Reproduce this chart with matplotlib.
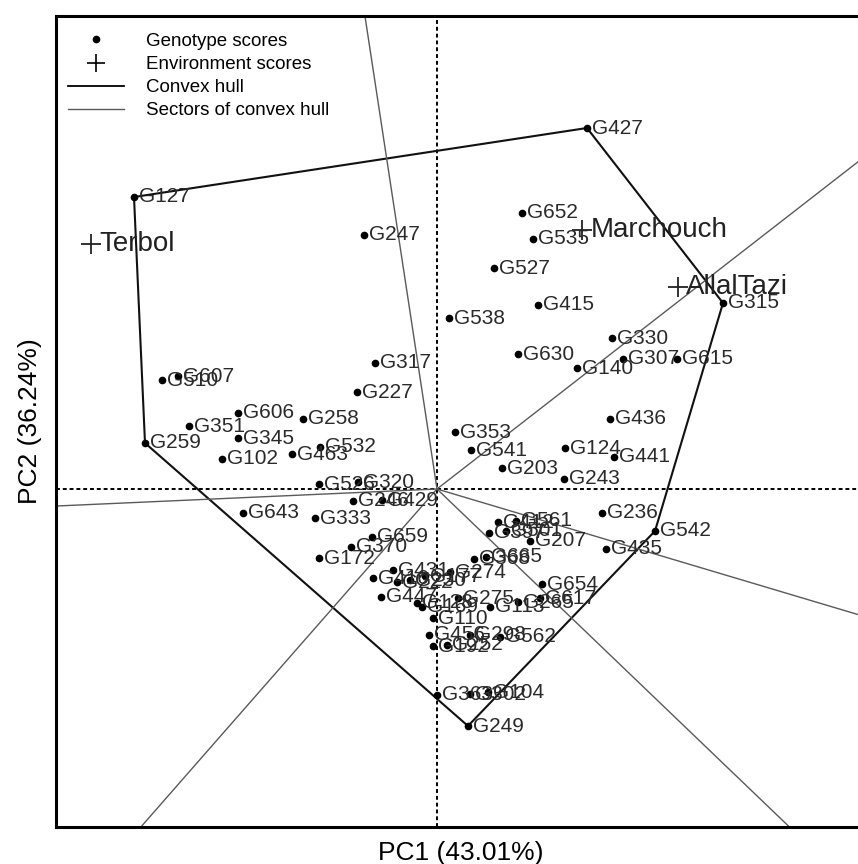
"""
GGE biplot (which-won-where view) with convex hull and sector lines.
"""

import numpy as np
import matplotlib
matplotlib.use('Agg')
import matplotlib.pyplot as plt
from matplotlib.lines import Line2D

plt.rcParams['font.family'] = ['Liberation Sans', 'DejaVu Sans']

# Genotype scores (PC1, PC2)
geno_names = [
    'G127', 'G427', 'G652', 'G535', 'G527', 'G247', 'G415', 'G538', 'G315', 'G330',
    'G630', 'G307', 'G615', 'G140', 'G436', 'G353', 'G541', 'G124', 'G441', 'G203',
    'G243', 'G236', 'G542', 'G435', 'G654', 'G607', 'G510', 'G317', 'G227', 'G606',
    'G258', 'G351', 'G259', 'G345', 'G532', 'G463', 'G102', 'G526', 'G320', 'G246',
    'G429', 'G643', 'G333', 'G659', 'G370', 'G172', 'G412', 'G561', 'G397', 'G501',
    'G207', 'G368', 'G665', 'G410', 'G431', 'G222', 'G230', 'G177', 'G274', 'G447',
    'G128', 'G169', 'G275', 'G113', 'G265', 'G617', 'G110', 'G456', 'G298', 'G562',
    'G192', 'G252', 'G363', 'G302', 'G104', 'G249',
]
geno_pc1 = [
    -3.03, 1.50, 0.85, 0.96, 0.57, -0.73, 1.01, 0.12, 2.86, 1.75,
    0.81, 1.86, 2.40, 1.40, 1.73, 0.18, 0.34, 1.28, 1.77, 0.65,
    1.27, 1.65, 2.18, 1.69, 1.05, -2.59, -2.75, -0.62, -0.80, -1.99,
    -1.34, -2.48, -2.92, -1.99, -1.17, -1.45, -2.15, -1.18, -0.79, -0.84,
    -0.55, -1.94, -1.22, -0.65, -0.86, -1.18, 0.61, 0.79, 0.52, 0.69,
    0.93, 0.37, 0.49, -0.64, -0.44, -0.40, -0.27, -0.12, 0.13, -0.56,
    -0.20, -0.15, 0.21, 0.53, 0.81, 1.03, -0.04, -0.08, 0.33, 0.63,
    -0.04, 0.10, 0.00, 0.33, 0.51, 0.31,
]
geno_pc2 = [
    2.92, 3.61, 2.76, 2.50, 2.21, 2.54, 1.84, 1.71, 1.86, 1.51,
    1.35, 1.30, 1.30, 1.21, 0.70, 0.57, 0.39, 0.41, 0.32, 0.21,
    0.10, -0.24, -0.42, -0.60, -0.95, 1.13, 1.09, 1.26, 0.97, 0.76,
    0.70, 0.63, 0.46, 0.51, 0.42, 0.35, 0.30, 0.05, 0.07, -0.12,
    -0.11, -0.24, -0.29, -0.48, -0.58, -0.69, -0.33, -0.32, -0.44, -0.42,
    -0.52, -0.70, -0.68, -0.89, -0.81, -0.93, -0.91, -0.87, -0.83, -1.08,
    -1.14, -1.18, -1.09, -1.18, -1.13, -1.09, -1.29, -1.46, -1.46, -1.48,
    -1.57, -1.56, -2.06, -2.05, -2.03, -2.37,
]

# Environment scores
env_names = ['Terbol', 'Marchouch', 'AllalTazi']
env_pc1 = [-3.46, 1.45, 2.41]
env_pc2 = [2.45, 2.59, 2.02]

# Vertices of the convex hull, in drawing order
hull_names = ['G127', 'G427', 'G315', 'G542', 'G249', 'G259']

x_label = 'PC1 (43.01%)'
y_label = 'PC2 (36.24%)'


def main():
    fig = plt.figure(figsize=(8.58, 8.64), dpi=100)
    ax = fig.add_axes([56 / 858, 37 / 864, 810 / 858, 811 / 864])
    ax.set_xlim(-3.81, 4.29)
    ax.set_ylim(-3.38, 4.73)

    # reference lines through the origin
    ax.axhline(0, color='black', lw=1.4, ls=(0, (2, 1.5)), zorder=1)
    ax.axvline(0, color='black', lw=1.4, ls=(0, (2, 1.5)), zorder=1)

    pos = {n: (x, y) for n, x, y in zip(geno_names, geno_pc1, geno_pc2)}
    hull = np.array([pos[n] for n in hull_names + hull_names[:1]])
    ax.plot(hull[:, 0], hull[:, 1], color='#111111', lw=1.5, zorder=2)

    # sector lines: from origin, perpendicular to each hull edge
    for a, b in zip(hull[:-1], hull[1:]):
        d = b - a
        t = -np.dot(a, d) / np.dot(d, d)
        foot = a + t * d
        far = foot / np.linalg.norm(foot) * 20
        ax.plot([0, far[0]], [0, far[1]], color='#5a5a5a', lw=1.0, zorder=2)

    ax.plot(geno_pc1, geno_pc2, 'o', color='black', ms=4.5, ls='none', zorder=3)
    for n, x, y in zip(geno_names, geno_pc1, geno_pc2):
        ax.annotate(n, (x, y), xytext=(3.5, 0), textcoords='offset points',
                    ha='left', va='center', fontsize=15, color='#2a2a2a', zorder=4)

    ax.plot(env_pc1, env_pc2, '+', color='#222222', ms=15, mew=1.3, ls='none', zorder=3)
    for n, x, y in zip(env_names, env_pc1, env_pc2):
        ax.annotate(n, (x, y), xytext=(6, 0), textcoords='offset points',
                    ha='left', va='center', fontsize=20, color='#222222', zorder=4)

    handles = [
        Line2D([], [], marker='o', ls='none', ms=4.5, color='black'),
        Line2D([], [], marker='+', ls='none', ms=13, mew=1.2, color='black'),
        Line2D([], [], color='black', lw=1.3),
        Line2D([], [], color='#5a5a5a', lw=1.0),
    ]
    labels = ['Genotype scores', 'Environment scores', 'Convex hull',
              'Sectors of convex hull']
    ax.legend(handles, labels, loc='upper left', bbox_to_anchor=(-0.006, 1.0),
              frameon=False, fontsize=13.5, handlelength=3.0, handletextpad=1.15,
              labelspacing=0.32, borderaxespad=0.5)

    ax.set_xticks([])
    ax.set_yticks([])
    for side in ['left', 'top', 'bottom', 'right']:
        ax.spines[side].set_linewidth(2.2)
    ax.set_xlabel(x_label, fontsize=19, labelpad=10)
    ax.set_ylabel(y_label, fontsize=19, labelpad=10)

    fig.savefig('out.png', dpi=100)
    return 0


if __name__ == '__main__':
    main()
